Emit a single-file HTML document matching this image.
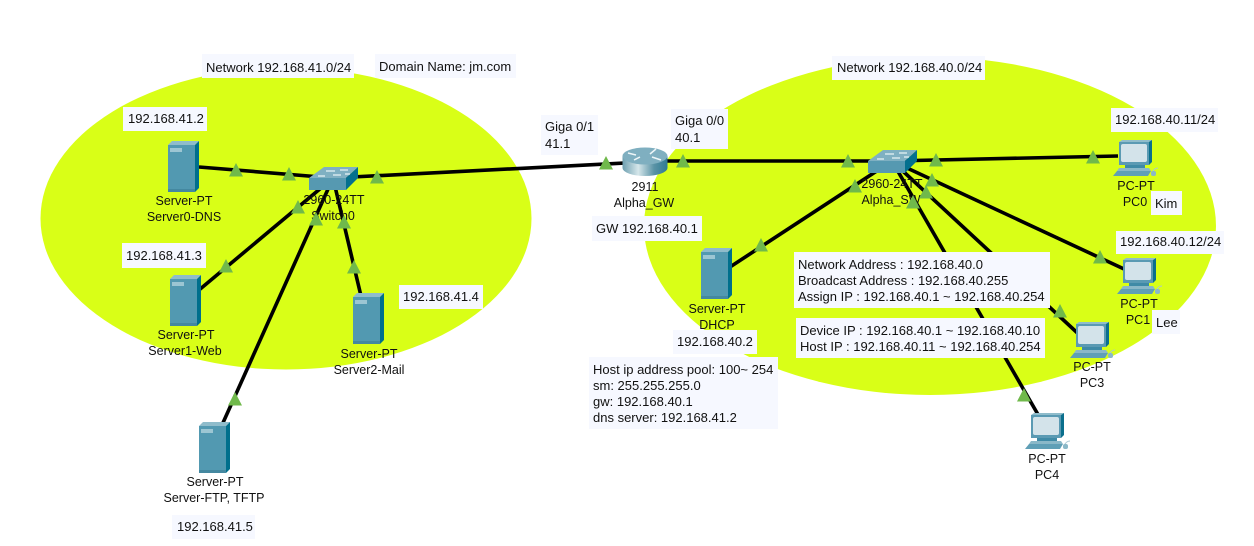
<!DOCTYPE html>
<html><head><meta charset="utf-8"><style>
html,body{margin:0;padding:0;background:#fff;width:1254px;height:546px;overflow:hidden}
svg{display:block}
text{font-family:"Liberation Sans",Arial,sans-serif;fill:#111}
.d text{font-size:12.5px;text-anchor:middle}
.n text{font-size:13px}
.b rect{fill:#f6f8ff}
.l line{stroke:#000;stroke-width:3.6}
</style></head><body>
<svg width="1254" height="546" viewBox="0 0 1254 546" xmlns="http://www.w3.org/2000/svg">
<defs>
<linearGradient id="rg" x1="0" x2="1" y1="0" y2="0"><stop offset="0" stop-color="#6d9fb0"/><stop offset=".35" stop-color="#d5e6ea"/><stop offset=".7" stop-color="#5a93a6"/><stop offset="1" stop-color="#2f7a92"/></linearGradient>
<g id="srv">
<polygon points="0,4 4,0 31,0 27,4" fill="#8fbccb"/>
<polygon points="27,4 31,0 31,47 27,51" fill="#006f8c"/>
<rect x="0" y="4" width="27" height="47" fill="#5299b1"/>
<rect x="0" y="48" width="27" height="3" fill="#4488a0"/>
<rect x="2" y="7" width="12" height="4" fill="#9cc6d3"/>
</g>
<g id="sw">
<polygon points="0,11 15,0 49,0 37,11" fill="#7fb0c2"/>
<polygon points="37,11 49,0 49,11 37,23" fill="#04708e"/>
<rect x="0" y="11" width="37" height="12" fill="#5699b1"/>
<path d="M17 4h9M31 3h8M9 9h7M24 8h8M36 7h5" stroke="#e8f2f5" stroke-width="1.2"/>
</g>
<g id="pc">
<polygon points="6,2 9,0 39,0 36,2" fill="#8fbccb"/>
<polygon points="36,2 39,0 39,22 36,25" fill="#0b6f8d"/>
<rect x="6" y="2" width="30" height="23" fill="#5a9ab3"/>
<rect x="8" y="4" width="26" height="18" rx="2" fill="#d3e3ea"/>
<rect x="12" y="25" width="20" height="3" fill="#3f8aa6"/>
<polygon points="6,28 36,28 38,31 4,31" fill="#8ab8c8"/>
<polygon points="4,31 38,31 35,36 0,36" fill="#5f9fb6"/>
<path d="M39 33q2-5 6-5" fill="none" stroke="#a9c8d3" stroke-width="1"/>
<rect x="38" y="31" width="5" height="5" rx="2" fill="#8ab8c8"/>
</g>
<polygon id="t" points="-7,6.5 0,-7 7,6.5" fill="#70b94b"/>
</defs>

<rect width="1254" height="546" fill="#fff"/>
<ellipse cx="286" cy="218.500" rx="245.500" ry="151" fill="#d9ff17"/>
<ellipse cx="930" cy="226" rx="286" ry="169" fill="#d9ff17"/>

<g class="l">
<line x1="199" y1="167" x2="333" y2="178"/>
<line x1="333" y1="178" x2="645" y2="162"/>
<line x1="645" y1="161" x2="892" y2="161"/>
<line x1="892" y1="161" x2="1118" y2="156"/>
<line x1="892" y1="161" x2="1124" y2="269"/>
<line x1="892" y1="161" x2="1085" y2="340"/>
<line x1="892" y1="161" x2="1040" y2="418"/>
<line x1="892" y1="161" x2="730" y2="267"/>
<line x1="333" y1="178" x2="199" y2="290"/>
<line x1="333" y1="178" x2="222" y2="425"/>
<line x1="333" y1="178" x2="361" y2="296"/>
</g>

<use href="#srv" x="168" y="141"/>
<use href="#srv" x="170" y="275"/>
<use href="#srv" x="353" y="293"/>
<use href="#srv" x="199" y="422"/>
<use href="#srv" x="701" y="248"/>
<use href="#sw" x="309" y="167"/>
<use href="#sw" x="868" y="150"/>
<g>
<ellipse cx="645" cy="168" rx="22.500" ry="8" fill="url(#rg)"/>
<rect x="622.500" y="156" width="45" height="12" fill="url(#rg)"/>
<ellipse cx="645" cy="156" rx="22.500" ry="8.500" fill="#7fafc0"/>
<path d="M628 153l8 2M634 160l6-3M650 154l6-5M652 157l9 3" stroke="#eef6f8" stroke-width="1.500"/>
</g>
<use href="#pc" x="1113" y="140"/>
<use href="#pc" x="1117" y="258"/>
<use href="#pc" x="1070" y="322"/>
<use href="#pc" x="1025" y="413"/>

<g class="d">
<text x="184" y="205">Server-PT</text><text x="184" y="221">Server0-DNS</text>
<text x="186" y="339">Server-PT</text><text x="185" y="355">Server1-Web</text>
<text x="369" y="358">Server-PT</text><text x="369" y="374">Server2-Mail</text>
<text x="215" y="486">Server-PT</text><text x="214" y="502">Server-FTP, TFTP</text>
<text x="334" y="204">2960-24TT</text><text x="333" y="220">Switch0</text>
<text x="645" y="191">2911</text><text x="644" y="207">Alpha_GW</text>
<text x="892" y="188">2960-24TT</text><text x="891" y="204">Alpha_SW</text>
<text x="717" y="313">Server-PT</text><text x="717" y="329">DHCP</text>
<text x="1136" y="190">PC-PT</text><text x="1135" y="206">PC0</text>
<text x="1139" y="308">PC-PT</text><text x="1138" y="324">PC1</text>
<text x="1092" y="371">PC-PT</text><text x="1092" y="387">PC3</text>
<text x="1047" y="463">PC-PT</text><text x="1047" y="479">PC4</text>
</g>

<g>
<use href="#t" x="236" y="170"/><use href="#t" x="289" y="174"/><use href="#t" x="377" y="177"/>
<use href="#t" x="298" y="207"/><use href="#t" x="316" y="219"/><use href="#t" x="344" y="222"/>
<use href="#t" x="226" y="266"/><use href="#t" x="354" y="267"/><use href="#t" x="235" y="399"/>
<use href="#t" x="606" y="163"/><use href="#t" x="683" y="161"/><use href="#t" x="848" y="161"/>
<use href="#t" x="936" y="160"/><use href="#t" x="1093" y="157"/><use href="#t" x="855" y="186"/>
<use href="#t" x="932" y="180"/><use href="#t" x="926" y="192"/><use href="#t" x="913" y="202"/>
<use href="#t" x="761" y="245"/><use href="#t" x="1100" y="257"/><use href="#t" x="1060" y="311"/>
<use href="#t" x="1024" y="395"/>
</g>

<g class="b">
<rect x="202" y="54" width="152" height="24"/>
<rect x="375" y="54" width="141" height="24"/>
<rect x="123" y="107" width="84" height="24"/>
<rect x="122" y="243" width="84" height="25"/>
<rect x="399" y="285" width="84" height="24"/>
<rect x="172" y="515" width="83" height="24"/>
<rect x="541" y="115" width="57" height="40"/>
<rect x="671" y="109" width="57" height="40"/>
<rect x="592" y="216" width="110" height="25"/>
<rect x="832" y="56" width="153" height="24"/>
<rect x="1111" y="108" width="107" height="24"/>
<rect x="1116" y="231" width="108" height="23"/>
<rect x="1151" y="191" width="31" height="24"/>
<rect x="1152" y="310" width="28" height="24"/>
<rect x="794" y="252" width="256" height="56"/>
<rect x="796" y="318" width="249" height="40"/>
<rect x="589" y="357" width="189" height="72"/>
<rect x="673" y="330" width="84" height="24"/>
</g>

<g class="n">
<text x="206" y="72">Network 192.168.41.0/24</text>
<text x="379" y="71">Domain Name: jm.com</text>
<text x="128" y="123">192.168.41.2</text>
<text x="126" y="260">192.168.41.3</text>
<text x="403" y="301">192.168.41.4</text>
<text x="177" y="531">192.168.41.5</text>
<text x="545" y="131">Giga 0/1</text><text x="545" y="148">41.1</text>
<text x="675" y="125">Giga 0/0</text><text x="675" y="142">40.1</text>
<text x="596" y="233">GW 192.168.40.1</text>
<text x="837" y="72">Network 192.168.40.0/24</text>
<text x="1115" y="124">192.168.40.11/24</text>
<text x="1120" y="246">192.168.40.12/24</text>
<text x="1155" y="208">Kim</text>
<text x="1156" y="327">Lee</text>
<text x="798" y="269">Network Address : 192.168.40.0</text>
<text x="798" y="285">Broadcast Address : 192.168.40.255</text>
<text x="798" y="301">Assign IP : 192.168.40.1 ~ 192.168.40.254</text>
<text x="800" y="335">Device IP : 192.168.40.1 ~ 192.168.40.10</text>
<text x="800" y="351">Host IP : 192.168.40.11 ~ 192.168.40.254</text>
<text x="677" y="346">192.168.40.2</text>
<text x="593" y="374">Host ip address pool: 100~ 254</text>
<text x="593" y="390">sm: 255.255.255.0</text>
<text x="593" y="406">gw: 192.168.40.1</text>
<text x="593" y="422">dns server: 192.168.41.2</text>
</g>
</svg>
</body></html>
